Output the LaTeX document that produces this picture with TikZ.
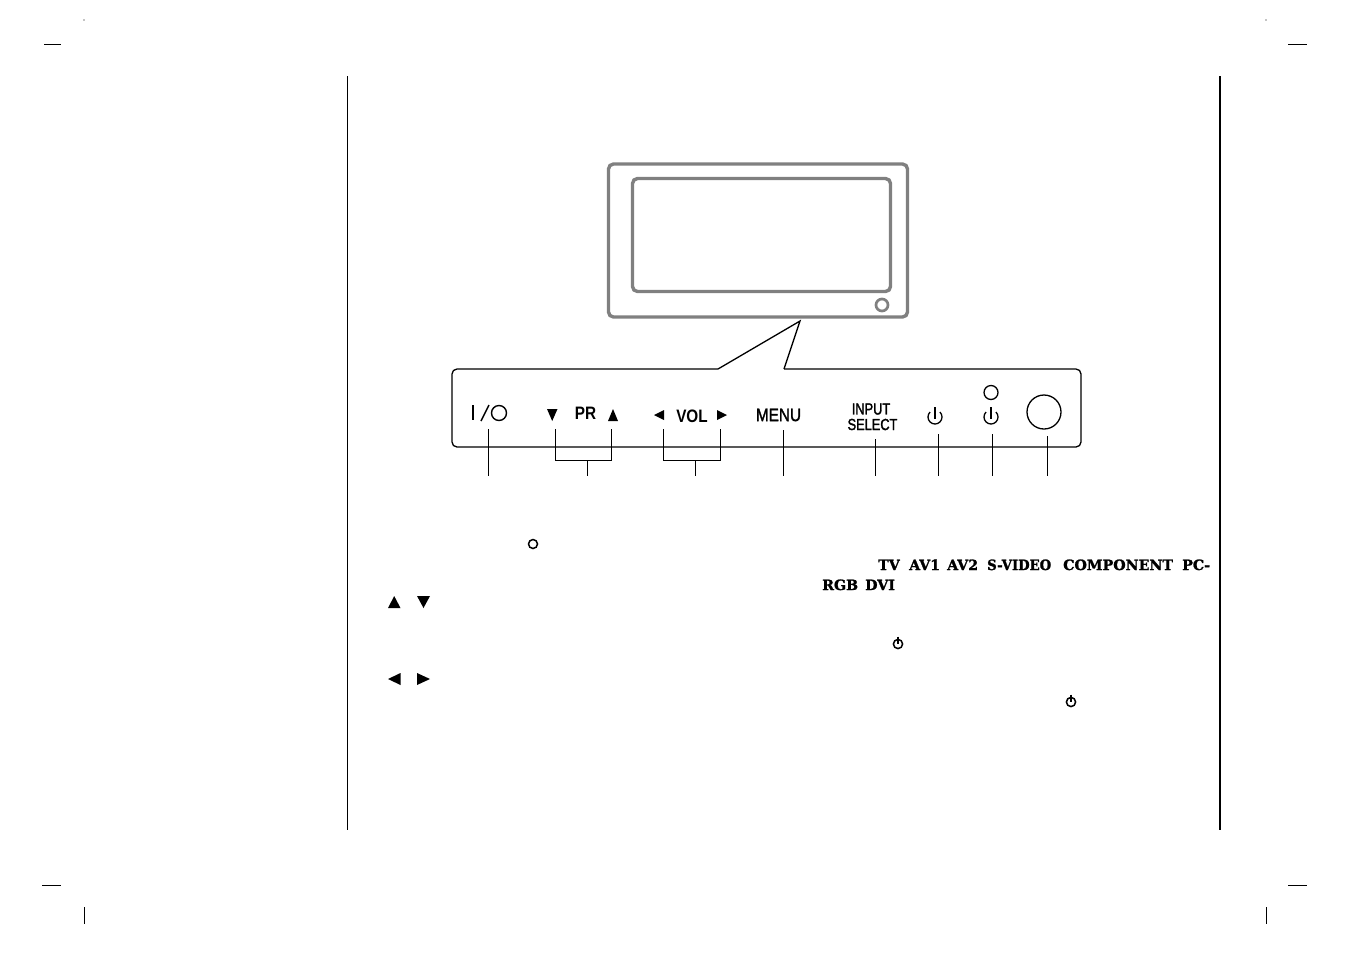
\documentclass[tikz,border=0pt]{standalone}
\usepackage{fontspec}
\setmainfont{Liberation Sans}
\newfontfamily\panelfont[FakeBold=2]{Liberation Sans}
\newfontfamily\panelbold{Liberation Sans Bold}
\newfontfamily\slabfont[FakeBold=1.5]{DejaVu Serif Bold}
\tikzset{
  tvline/.style={draw=black!50,line width=3.4pt,rounded corners=5pt},
  panelline/.style={draw=black,line width=1.3pt,rounded corners=5pt},
  pointerline/.style={draw=black,line width=1.3pt,line join=miter},
  leader/.style={draw=black,line width=0.9pt},
  iconline/.style={draw=black,line width=1.3pt},
  marker/.style={draw=black,line width=1pt},
  smallicon/.style={draw=black,line width=1.5pt},
  solidtri/.style={fill=black,draw=none},
  paneltext/.style={inner sep=0pt,font=\panelfont\fontsize{18}{18}\selectfont},
  boldtext/.style={inner sep=0pt,font=\panelbold\fontsize{18}{18}\selectfont},
  inputtext/.style={inner sep=0pt,font=\panelfont\fontsize{16}{16}\selectfont},
  slab/.style={inner sep=0pt,anchor=base west,font=\slabfont\fontsize{14.2}{14}\selectfont}
}
\begin{document}
\begin{tikzpicture}[x=1pt,y=-1pt]
\useasboundingbox (0,0) rectangle (1351,954);
% page frame
\draw[draw=black,line width=1pt] (347.7,76) -- (347.7,830);
\draw[draw=black,line width=2pt] (1220,76) -- (1220,830);
% crop marks
\draw[marker] (44,44) -- (61,44);
\draw[marker] (42,885) -- (61,885);
\draw[marker] (84,907) -- (84,924);
\draw[marker] (1288,44) -- (1307,44);
\draw[marker] (1288,885) -- (1307,885);
\draw[marker] (1266,907) -- (1266,924);
\fill (84,20) circle (0.7);
\fill (1266,20) circle (0.7);
% TV
\draw[tvline] (608.5,164) rectangle (907.5,317);
\draw[tvline] (632.5,178.5) rectangle (890.5,291.5);
\draw[draw=black!50,line width=2.7pt] (882,305) circle (6);
% callout panel
\draw[panelline] (784,369) -- (1081,369) -- (1081,447) -- (452,447) -- (452,369) -- (718,369);
\draw[pointerline] (718,369) -- (800,321) -- (784,369);
% power switch
\draw[iconline,line width=1.7pt] (473,405) -- (473,420);
\draw[iconline,line width=1.5pt] (481,421) -- (489,405);
\draw[iconline,line width=1.4pt] (499,413) circle (7.5);
% PR
\fill[solidtri] (547,409) -- (557.5,409) -- (552.2,421) -- cycle;
\node[boldtext] (pr) at (585.5,413.5) {\scalebox{.85}[1]{PR}};
\fill[solidtri] (608,421) -- (618,421) -- (613,409) -- cycle;
% VOL
\fill[solidtri] (654,415) -- (664,410) -- (664,420) -- cycle;
\node[boldtext] (vol) at (692,416.5) {\scalebox{.85}[1]{VOL}};
\fill[solidtri] (717,410) -- (727,415) -- (717,420) -- cycle;
% MENU
\node[paneltext] (menu) at (778.5,415) {\scalebox{.85}[1]{MENU}};
% INPUT SELECT
\node[inputtext] (input) at (871,409) {\scalebox{.8}[1]{INPUT}};
\node[inputtext] (select) at (872.5,424.5) {\scalebox{.8}[1]{SELECT}};
% standby icons
\draw[iconline] (930.05,412.05) arc (225:-45:7);
\draw[iconline] (935,407) -- (935,419);
\draw[iconline] (991,392.5) circle (7);
\draw[iconline] (986.05,412.05) arc (225:-45:7);
\draw[iconline] (991,407) -- (991,419);
% sensor
\draw[iconline] (1044,412) circle (17);
% leaders
\coordinate (l1a) at (488.5,429); \coordinate (l1b) at (488.5,476);
\draw[leader] (l1a) -- (l1b);
\coordinate (p1) at (555,429); \coordinate (p2) at (611,429);
\coordinate (p3) at (555,460); \coordinate (p4) at (611,460);
\coordinate (p5) at (587.5,460); \coordinate (p6) at (587.5,476);
\draw[leader] (p1) -- (p3) -- (p4) -- (p2);
\draw[leader] (p5) -- (p6);
\coordinate (v1) at (663,429); \coordinate (v2) at (720,429);
\coordinate (v3) at (663,460); \coordinate (v4) at (720,460);
\coordinate (v5) at (695,460); \coordinate (v6) at (695,476);
\draw[leader] (v1) -- (v3) -- (v4) -- (v2);
\draw[leader] (v5) -- (v6);
\coordinate (m1) at (783.3,430); \coordinate (m2) at (783.3,476);
\draw[leader] (m1) -- (m2);
\coordinate (s1) at (875.3,439); \coordinate (s2) at (875.3,476);
\draw[leader] (s1) -- (s2);
\coordinate (w1) at (938.7,434); \coordinate (w2) at (938.7,476);
\draw[leader] (w1) -- (w2);
\coordinate (y1) at (992.3,434); \coordinate (y2) at (992.3,476);
\draw[leader] (y1) -- (y2);
\coordinate (z1) at (1047.3,436); \coordinate (z2) at (1047.3,476);
\draw[leader] (z1) -- (z2);
% body symbols
\draw[smallicon] (533,544) circle (4.5);
\fill[solidtri] (388,608) -- (400.5,608) -- (394.2,596) -- cycle;
\fill[solidtri] (417,596) -- (430,596) -- (423.5,608) -- cycle;
\fill[solidtri] (388,679) -- (400.5,673) -- (400.5,685) -- cycle;
\fill[solidtri] (417,673) -- (430,679) -- (417,685) -- cycle;
% body words
\node[slab] (w-tv)  at (878,570) {TV};
\node[slab] (w-av1) at (909,570) {AV1};
\node[slab] (w-av2) at (947,570) {AV2};
\node[slab] (w-sv)  at (987,570) {\scalebox{.93}[1]{S-VIDEO}};
\node[slab] (w-cp)  at (1063,570) {COMPONENT};
\node[slab] (w-pc)  at (1182,570) {PC-};
\node[slab] (w-rgb) at (822,590) {RGB};
\node[slab] (w-dvi) at (865,590) {DVI};
% small standby icons
\draw[smallicon] (898,644) circle (4.6);
\draw[smallicon] (898,636.5) -- (898,644);
\draw[smallicon] (1071,702) circle (4.6);
\draw[smallicon] (1071,694.5) -- (1071,702);
\end{tikzpicture}
\end{document}
